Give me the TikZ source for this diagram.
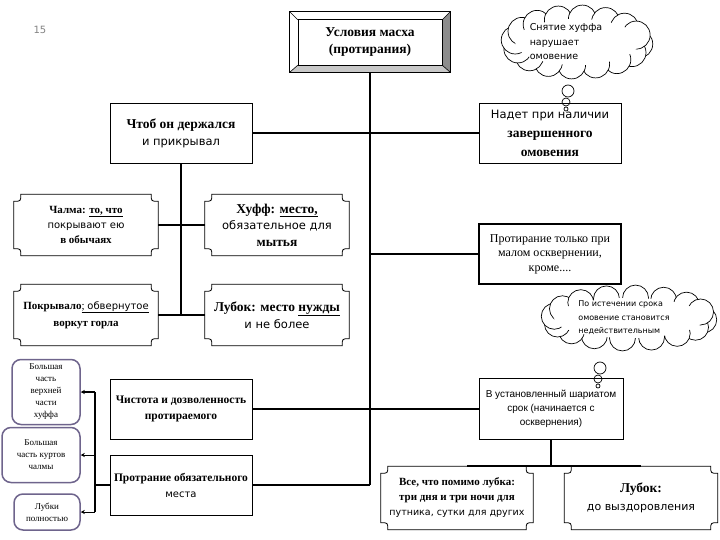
\documentclass[tikz,border=0pt]{standalone}
\usepackage{fontspec}
\setmainfont{Liberation Serif}
\setsansfont{DejaVu Sans}
\newfontfamily\narrowsans{Liberation Sans}
\usetikzlibrary{arrows.meta,positioning,calc}
\definecolor{bevellight}{RGB}{200,200,200}
\definecolor{beveldark}{RGB}{140,140,140}
\definecolor{smallframe}{RGB}{110,100,140}
\definecolor{numgray}{RGB}{130,130,130}
\newcommand{\fsz}[2]{\fontsize{#1}{#2}\selectfont}
% frame with concave corners, drawn round a named node
\newcommand{\scrollframe}[1]{%
  \draw[line width=0.8pt]
    ([xshift=7pt]#1.north west) -- ([xshift=-7pt]#1.north east)
    .. controls ([shift={(-7pt,-7pt)}]#1.north east) .. ([yshift=-7pt]#1.north east)
    -- ([yshift=7pt]#1.south east)
    .. controls ([shift={(-7pt,7pt)}]#1.south east) .. ([xshift=-7pt]#1.south east)
    -- ([xshift=7pt]#1.south west)
    .. controls ([shift={(7pt,7pt)}]#1.south west) .. ([yshift=7pt]#1.south west)
    -- ([yshift=-7pt]#1.north west)
    .. controls ([shift={(7pt,-7pt)}]#1.north west) .. ([xshift=7pt]#1.north west) -- cycle;}
% thought cloud: centre x, centre y, x half-axis, y half-axis, puff radius
\newcommand{\puffcloud}[5]{%
  \begin{scope}[shift={(#1pt,-#2pt)}]
    \foreach \k in {0,...,15}
      \filldraw[fill=white, line width=0.7pt]
        ({#3pt*cos(\k*360/16+5)},{-#4pt*sin(\k*360/16+5)}) circle[radius=#5pt];
    \fill[white] (0pt,0pt) ellipse[x radius=#3pt, y radius=#4pt];
  \end{scope}}
\tikzset{
  plainbox/.style={draw, line width=0.8pt, minimum width=142pt, minimum height=60pt,
                   align=center, inner sep=1pt},
  scrollbox/.style={minimum width=144pt, minimum height=61pt, align=center, inner sep=1pt},
  smallbox/.style={draw=smallframe, line width=1.5pt, rounded corners=9pt, align=center,
                   inner sep=1pt, font=\fsz{9}{12}},
  thought/.style={inner sep=0pt, align=left},
  bubble/.style={circle, draw, line width=0.7pt, inner sep=0pt},
  conn/.style={line width=2.2pt},
  tiparrow/.style={line width=1pt, -{Stealth[length=4pt,width=4pt]}}
}
\begin{document}
\begin{tikzpicture}[x=1pt,y=-1pt]
  \useasboundingbox (0,0) rectangle (720,540);
  \node[font=\sffamily\fsz{10}{12}, text=numgray] (num) at (40,30) {15};

  % title box with bevel
  \node[minimum width=160pt, minimum height=60pt, inner sep=0pt, align=center,
        font=\bfseries\fsz{13.5}{17}] (title) at (370,42) {Условия масха\\(протирания)};
  \fill[beveldark] (title.south east) -- (title.north east) -- ([shift={(-8pt,-8pt)}]title.north east)
       -- ([shift={(-8pt,7pt)}]title.south east) -- cycle;
  \fill[bevellight] (title.south west) -- (title.south east) -- ([shift={(-8pt,7pt)}]title.south east)
       -- ([shift={(8pt,7pt)}]title.south west) -- cycle;
  \draw[line width=0.8pt] (title.north west) rectangle (title.south east);
  \draw[line width=0.6pt] ([shift={(8pt,-8pt)}]title.north west) rectangle ([shift={(-8pt,7pt)}]title.south east);
  \foreach \c/\dx/\dy in {north west/8/-8, north east/-8/-8, south west/8/7, south east/-8/7}
    \draw[line width=0.6pt] (title.\c) -- ([shift={(\dx pt,\dy pt)}]title.\c);

  % thoughts
  \puffcloud{577}{42}{62}{23}{14}
  \node[thought, font=\sffamily\fsz{9.5}{14.5}] (cloudA) at (566,42) {Снятие хуффа\\нарушает\\омовение};
  \node[bubble, minimum size=12pt] (ca1) at (568,91) {};
  \node[bubble, minimum size=8pt] (ca2) at (566,102) {};
  \node[bubble, minimum size=4pt] (ca3) at (566,109) {};

  \puffcloud{629}{318}{75}{20}{13}
  \node[thought, font=\sffamily\fsz{8}{13.5}] (cloudB) at (624,318)
       {По истечении срока\\омовение становится\\недействительным};
  \node[bubble, minimum size=12pt] (cb1) at (600,368) {};
  \node[bubble, minimum size=8pt] (cb2) at (598,379) {};
  \node[bubble, minimum size=4pt] (cb3) at (598,386) {};

  % upper boxes
  \node[plainbox, font=\fsz{13.5}{17}] (chtob) at (181,133)
       {\bfseries Чтоб он держался\\{\sffamily\fsz{11.5}{17}и прикрывал}};
  \node[plainbox, font=\fsz{13.5}{19}] (nadet) at (550,133)
       {{\sffamily\fsz{11.5}{19}Надет при наличии}\\\bfseries завершенного\\\bfseries омовения};

  \node[scrollbox, font=\fsz{11}{15}] (chalma) at (86,225)
       {\textbf{Чалма: \underline{то, что}}\\{\sffamily\fsz{10}{15}покрывают ею}\\\textbf{в обычаях}};
  \scrollframe{chalma}
  \node[scrollbox, font=\fsz{13.5}{16.5}] (khuff) at (277,225)
       {\textbf{Хуфф: \underline{место,}}\\{\sffamily\fsz{11.5}{16.5}обязательное для}\\\textbf{мытья}};
  \scrollframe{khuff}
  \node[scrollbox, font=\fsz{11}{17}] (pokryv) at (86,315)
       {\textbf{Покрывало}\underline{; {\sffamily\fsz{10}{17}обвернутое}}\\\textbf{воркут горла}};
  \scrollframe{pokryv}
  \node[scrollbox, font=\fsz{13.5}{17}] (lubok) at (277,315)
       {\textbf{Лубок: место \underline{нужды}}\\{\sffamily\fsz{11.5}{17}и не более}};
  \scrollframe{lubok}

  \node[plainbox, line width=1.6pt, font=\fsz{12}{14.5}] (protirka) at (550,254)
       {Протирание только при\\малом осквернении,\\кроме....};

  % lower left
  \node[smallbox, minimum width=68pt, minimum height=65pt] (sm1) at (46,392)
       {Большая\\часть\\верхней\\части\\хуффа};
  \node[smallbox, minimum width=78pt, minimum height=55pt] (sm2) at (41,455)
       {Большая\\часть куртов\\чалмы};
  \node[smallbox, minimum width=66pt, minimum height=36pt] (sm3) at (47,512)
       {Лубки\\полностью};

  \node[plainbox, font=\bfseries\fsz{11.5}{16}] (chist) at (181,409)
       {Чистота и дозволенность\\протираемого};
  \node[plainbox, font=\fsz{11.5}{16}] (obyaz) at (181,485)
       {\textbf{Протрание обязательного}\\{\sffamily\fsz{10}{16}места}};

  % lower right
  \node[plainbox, minimum width=144pt, minimum height=61pt, font=\narrowsans\fsz{10}{14}] (srok) at (551,409)
       {В установленный шариатом\\срок (начинается с\\осквернения)};
  \node[scrollbox, minimum width=152pt, minimum height=63pt, font=\fsz{11}{15}] (vse) at (457,498)
       {\textbf{Все, что помимо лубка:}\\\textbf{три дня и три ночи для}\\{\sffamily\fsz{9.5}{15}путника, сутки для других}};
  \scrollframe{vse}
  \node[scrollbox, minimum width=153pt, minimum height=63pt, font=\fsz{13.5}{18}] (lubokB) at (641,498)
       {\textbf{Лубок:}\\{\sffamily\fsz{11}{18}до выздоровления}};
  \scrollframe{lubokB}

  % connectors
  \draw[conn] (title.south) -- (title.south |- obyaz.east);
  \draw[conn] (chtob.east) -- (nadet.west);
  \draw[conn] (title.south |- protirka.west) -- (protirka.west);
  \draw[conn] (chist.east) -- (chist.east -| srok.west);
  \draw[conn] (obyaz.east) -- (title.south |- obyaz.east);
  \draw[conn] (chtob.south) -- (chtob.south |- pokryv.east);
  \draw[conn] (chalma.east) -- (khuff.west);
  \draw[conn] (pokryv.east) -- (lubok.west);
  \draw[conn] (srok.south) -- (srok.south |- vse.north);
  \draw[conn] ([xshift=10pt]vse.north) -- (lubokB.north);
  \coordinate (fork) at (95,485);
  \draw[conn] (obyaz.west) -- (fork);
  \draw[conn] (fork |- sm1.east) -- (fork |- sm3.east);
  \draw[tiparrow, line width=2pt] (fork |- sm1.east) -- (sm1.east);
  \draw[tiparrow] (fork |- sm2.east) -- (sm2.east);
  \draw[tiparrow] (fork |- sm3.east) -- (sm3.east);
\end{tikzpicture}
\end{document}
